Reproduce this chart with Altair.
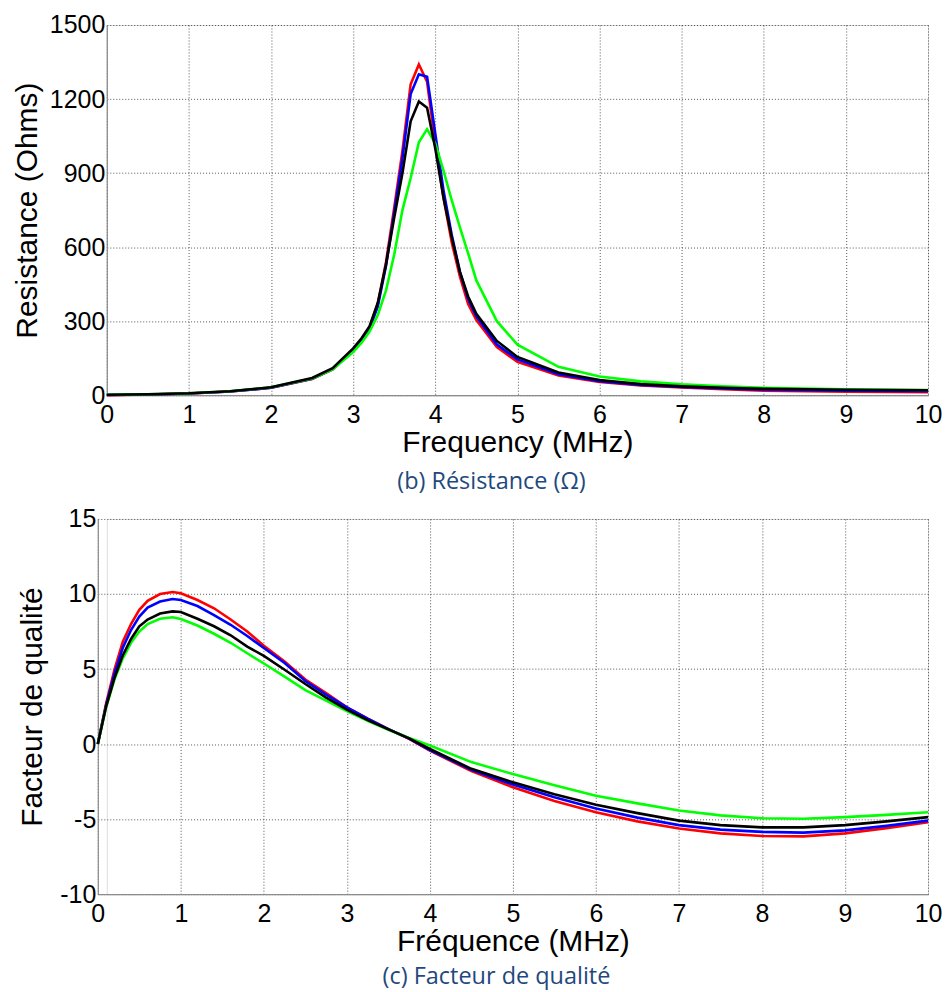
import altair as alt
import pandas as pd

# ---------------- data: Resistance (Ohms) vs Frequency (MHz) ----------------
freq_r = [0, 0.5, 1, 1.5, 2, 2.5, 2.75, 3, 3.1, 3.2, 3.3, 3.4, 3.5, 3.6, 3.7, 3.8,
          3.9, 4.0, 4.1, 4.2, 4.3, 4.4, 4.5, 4.75, 5, 5.5, 6, 6.5, 7, 7.5, 8, 9, 10]
res_red = [0, 3, 7, 15, 30, 66, 105, 185, 225, 275, 370, 540, 760, 990, 1260, 1340,
           1270, 1020, 800, 620, 480, 370, 305, 195, 135, 80, 54, 40, 31, 24, 18, 14, 12]
res_blue = [1, 3, 7, 15, 30, 67, 106, 183, 222, 270, 360, 525, 740, 960, 1220, 1300,
            1290, 1060, 830, 650, 500, 390, 320, 205, 145, 85, 57, 42, 33, 27, 22, 18, 16]
res_green = [2, 4, 8, 16, 32, 68, 105, 175, 212, 258, 325, 425, 570, 750, 880, 1025,
             1078, 1020, 910, 790, 680, 575, 465, 300, 205, 115, 76, 56, 44, 36, 30, 24, 21]
res_black = [2, 4, 8, 16, 32, 70, 110, 190, 230, 280, 375, 530, 720, 900, 1110, 1190,
             1165, 1000, 800, 640, 500, 400, 330, 220, 155, 92, 62, 45, 36, 30, 26, 22, 20]

# ---------------- data: Facteur de qualite vs Frequence (MHz) ----------------
freq_q = [0, 0.1, 0.2, 0.3, 0.4, 0.5, 0.6, 0.75, 0.9, 1.0, 1.2, 1.4, 1.6, 1.8, 2.0,
          2.25, 2.5, 2.75, 3.0, 3.25, 3.5, 3.75, 4.0, 4.5, 5, 5.5, 6, 6.5, 7, 7.5,
          8, 8.5, 9, 9.5, 10]
q_red = [0, 2.7, 4.95, 6.8, 8.0, 8.95, 9.55, 10.0, 10.13, 10.05, 9.6, 9.05, 8.3, 7.5, 6.55,
         5.5, 4.3, 3.4, 2.45, 1.7, 1.0, 0.35, -0.44, -1.8, -2.88, -3.8, -4.55, -5.15, -5.62, -5.95,
         -6.12, -6.15, -5.95, -5.6, -5.2]
q_blue = [0, 2.6, 4.7, 6.4, 7.6, 8.5, 9.1, 9.5, 9.67, 9.6, 9.2, 8.6, 7.95, 7.2, 6.4,
          5.4, 4.2, 3.3, 2.45, 1.7, 1.0, 0.37, -0.4, -1.72, -2.7, -3.55, -4.3, -4.9, -5.4, -5.7,
          -5.85, -5.9, -5.75, -5.45, -5.1]
q_green = [0, 2.45, 4.3, 5.7, 6.75, 7.5, 8.0, 8.35, 8.45, 8.33, 7.9, 7.35, 6.75, 6.05, 5.37,
           4.5, 3.6, 2.9, 2.2, 1.55, 0.95, 0.4, -0.1, -1.2, -2.0, -2.75, -3.44, -3.95, -4.43, -4.75,
           -4.94, -4.98, -4.87, -4.72, -4.54]
q_black = [0, 2.5, 4.4, 5.9, 7.0, 7.85, 8.3, 8.7, 8.84, 8.8, 8.35, 7.85, 7.25, 6.5, 5.87,
           4.95, 4.0, 3.1, 2.3, 1.6, 0.98, 0.38, -0.33, -1.65, -2.55, -3.35, -4.05, -4.6, -5.1, -5.4,
           -5.55, -5.55, -5.4, -5.15, -4.87]

series_order = ["red", "blue", "green", "black"]
series_colors = {"red": "#FF0000", "blue": "#0000FF", "green": "#00FF00", "black": "#000000"}

res_rows = []
for name, vals in zip(series_order, [res_red, res_blue, res_green, res_black]):
    for f, v in zip(freq_r, vals):
        res_rows.append({"freq": f, "value": v, "series": name})
res_df = pd.DataFrame(res_rows)

q_rows = []
for name, vals in zip(series_order, [q_red, q_blue, q_green, q_black]):
    for f, v in zip(freq_q, vals):
        q_rows.append({"freq": f, "value": v, "series": name})
q_df = pd.DataFrame(q_rows)

FONT = "Liberation Sans"
CAP_FONT = "Open Sans"
CAP_COLOR = "#1F497D"


def axis(title, values, label_pad, title_pad, offset=0):
    return alt.Axis(
        title=title, values=values, grid=True, gridDash=[1, 2], gridColor="#444",
        gridOpacity=0.9, gridWidth=1, ticks=False, domainColor="#8c8c8c", domainWidth=1.2,
        labelFont=FONT, labelFontSize=25, labelColor="#000", labelPadding=label_pad,
        labelFlush=False, labelOverlap=False, labelExpr="'' + datum.value",
        titleFont=FONT, titleFontSize=30, titleFontWeight="normal", titleColor="#000",
        titlePadding=title_pad, offset=offset,
    )


def panel(df, xtitle, ytitle, ydomain, yvalues, ytitle_pad, width, height, caption,
          xrange, yoffset, cap_dx, cap_offset):
    layers = []
    for name in series_order:
        layers.append(
            alt.Chart(df[df.series == name]).mark_line(
                color=series_colors[name], strokeWidth=2.6, clip=False
            ).encode(
                x=alt.X("freq:Q", scale=alt.Scale(domain=[0, 10], nice=False, range=xrange),
                        axis=axis(xtitle, list(range(0, 11)), 7, 0)),
                y=alt.Y("value:Q", scale=alt.Scale(domain=ydomain, nice=False),
                        axis=axis(ytitle, yvalues, 2, ytitle_pad, yoffset)),
                order="freq:Q",
            )
        )
    return alt.layer(*layers).properties(
        width=width, height=height,
        title=alt.TitleParams(
            text=caption, orient="bottom", anchor="middle", frame="group",
            font=CAP_FONT, fontSize=23.5, fontWeight="normal", color=CAP_COLOR,
            offset=cap_offset, dx=cap_dx,
        ),
    )


top = panel(res_df, "Frequency (MHz)", "Resistance (Ohms)", [0, 1500],
            [0, 300, 600, 900, 1200, 1500], 7, 823, 371, "(b) Résistance (Ω)",
            [0, 823], 0, -26, 13)
bottom = panel(q_df, "Fréquence (MHz)", "Facteur de qualité", [-10, 15],
               [-10, -5, 0, 5, 10, 15], 12, 823, 376, "(c) Facteur de qualité",
               [-9, 823], 9, -21, 9)

chart = alt.ConcatChart(
    concat=[top, bottom], columns=1, spacing=12,
    padding={"left": 3, "top": 3, "right": 0, "bottom": 0},
).configure_view(stroke=None).configure(background="white")

chart.save("out.html", embed_options={"renderer": "svg", "actions": False})
